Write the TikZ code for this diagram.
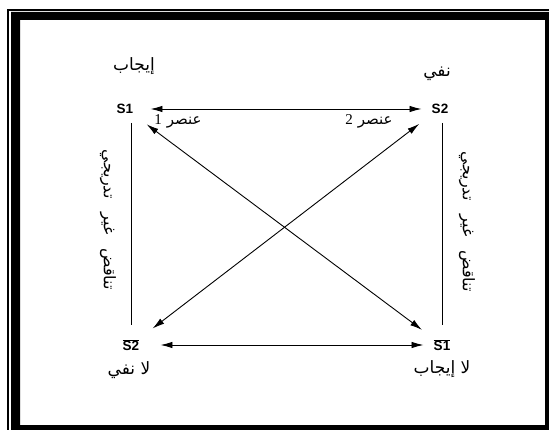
\documentclass[tikz,border=0pt]{standalone}
\usepackage{fontspec}
\setmainfont{Liberation Serif}
\newfontfamily\arabicfont[Script=Arabic]{DejaVu Sans}
\newfontfamily\latinsans{Liberation Sans}
\TeXXeTstate=1
\usetikzlibrary{arrows.meta}

\begin{document}
\begin{tikzpicture}[x=1pt, y=-1pt,
    lbl/.style={font=\arabicfont\fontsize{17}{19}\selectfont, inner sep=0pt},
    sym/.style={font=\latinsans\bfseries\fontsize{13.5}{15}\selectfont, inner sep=2pt},
    dbl/.style={{Latex[length=12pt,width=6.5pt]}-{Latex[length=12pt,width=6.5pt]}, line width=0.9pt}]
    % 1. MARC DE LA FIGURA
    \useasboundingbox (0,0) rectangle (549,430);
    \clip (0,0) rectangle (549,430);
    \draw[line width=1.6pt] (8,10) rectangle (560,440);
    \fill[even odd rule] (11,12) rectangle (560,440) (20,20) rectangle (545,425);

    % 2. ELS QUATRE VÈRTEXS DEL QUADRAT
    \node[sym] (s1) at (125,109) {S1};
    \node[sym] (s2) at (440,109) {S2};
    \node[sym] (ns2) at (131,345) {$\overline{\hbox{S2}}$};
    \node[sym] (ns1) at (442,345) {$\overline{\hbox{S1}}$};

    % Etiquetes dels vèrtexs
    \node[lbl] (ijab) at (134,66) {\beginR إيجاب\endR};
    \node[lbl] (nafy) at (437,74) {\beginR نفي\endR};
    \node[lbl] (lanafy) at (129,370) {\beginR لا نفي\endR};
    \node[lbl] (laijab) at (442,369) {\beginR لا إيجاب\endR};
    \node[lbl, font=\arabicfont\fontsize{15}{17}\selectfont] (el1) at (178,121) {\beginR عنصر \beginL{\rmfamily 1}\endL\endR};
    \node[lbl, font=\arabicfont\fontsize{15}{17}\selectfont] (el2) at (369,121) {\beginR عنصر \beginL{\rmfamily 2}\endL\endR};
    \node[lbl, font=\arabicfont\fontsize{16}{18}\selectfont, rotate=-90] (cl) at (108,220) {\beginR تناقض\hspace{14pt}غير\hspace{14pt}تدريجي\endR};
    \node[lbl, font=\arabicfont\fontsize{16}{18}\selectfont, rotate=-90] (cr) at (467,222) {\beginR تناقض\hspace{14pt}غير\hspace{14pt}تدريجي\endR};

    % 3. RELACIONS
    \draw[dbl, shorten <=15pt, shorten >=8pt] (s1.east) -- (s2.west);
    \draw[dbl, shorten <=19pt, shorten >=8pt] (ns2.east) -- (ns1.west);
    \draw[dbl, shorten <=14pt, shorten >=12pt] (s1.south east) -- (ns1.north west);
    \draw[dbl, shorten <=13pt, shorten >=14pt] (s2.south west) -- (ns2.north east);
    \draw[line width=0.9pt, shorten <=7pt, shorten >=12pt] (ns2.north |- s1.south) -- (ns2.north);
    \draw[line width=0.9pt, shorten <=7pt, shorten >=12pt] (ns1.north |- s2.south) -- (ns1.north);

\end{tikzpicture}
\end{document}
